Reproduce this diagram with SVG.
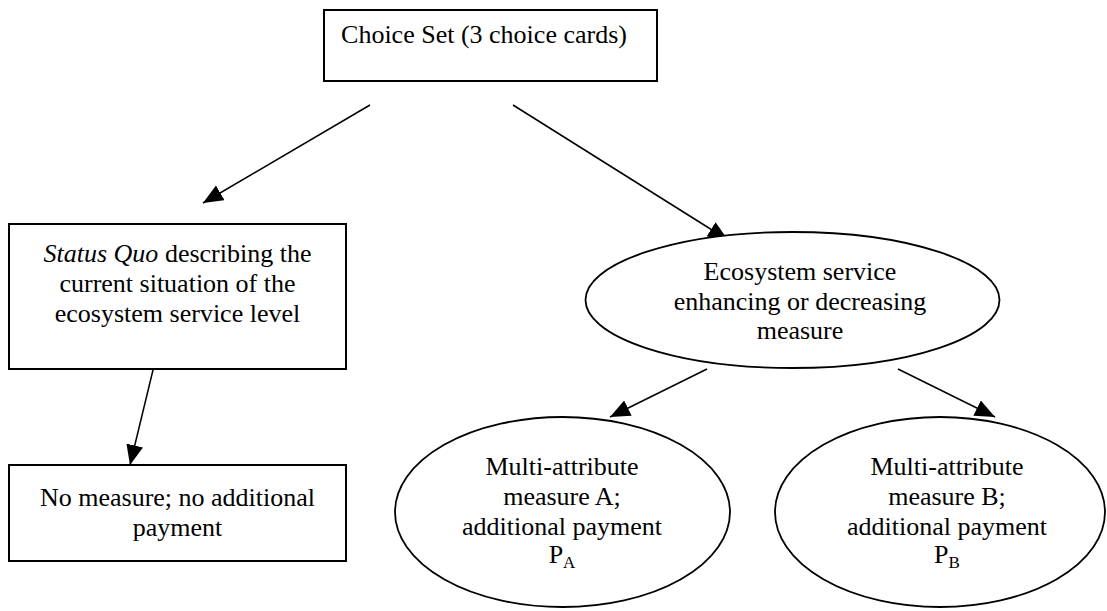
<svg xmlns="http://www.w3.org/2000/svg" width="1107" height="611" viewBox="0 0 1107 611">
<style>
  .box { fill: #fff; stroke: #000; stroke-width: 2; }
  .ell { fill: #fff; stroke: #000; stroke-width: 1.8; }
  .t { font-family: "Liberation Serif", "Times New Roman", "DejaVu Serif", serif; font-size: 26px; fill: #000; text-anchor: middle; }
  .sub { font-size: 17px; }
  .conn line { stroke: #000; stroke-width: 1.5; marker-end: url(#arr); }
</style>
<defs>
  <marker id="arr" markerUnits="userSpaceOnUse" markerWidth="22" markerHeight="18" refX="20" refY="8.5" orient="auto">
    <path d="M0,0 L20,8.5 L0,17 z" fill="#000"/>
  </marker>
</defs>
<rect width="1107" height="611" fill="#fff"/>
<g id="connectors" class="conn">
  <line x1="370" y1="105" x2="203" y2="203"/>
  <line x1="513" y1="105" x2="728" y2="240"/>
  <line x1="153" y1="370" x2="130" y2="465"/>
  <line x1="707" y1="369" x2="610" y2="417"/>
  <line x1="898" y1="369" x2="995" y2="417"/>
</g>
<g id="choice-set">
  <rect class="box" x="324" y="10" width="333" height="71"/>
  <text class="t" x="484" y="43">Choice Set (3 choice cards)</text>
</g>
<g id="status-quo">
  <rect class="box" x="9" y="224" width="337" height="145"/>
  <text class="t" x="177.5" y="262"><tspan font-style="italic">Status Quo</tspan> describing the</text>
  <text class="t" x="177.5" y="292">current situation of the</text>
  <text class="t" x="177.5" y="322">ecosystem service level</text>
</g>
<g id="no-measure">
  <rect class="box" x="9" y="465" width="337" height="96"/>
  <text class="t" x="177.5" y="506">No measure; no additional</text>
  <text class="t" x="177.5" y="536">payment</text>
</g>
<g id="ecosystem-measure">
  <ellipse class="ell" cx="792.5" cy="300" rx="207" ry="68"/>
  <text class="t" x="800" y="280">Ecosystem service</text>
  <text class="t" x="800" y="310">enhancing or decreasing</text>
  <text class="t" x="800" y="339">measure</text>
</g>
<g id="measure-a">
  <ellipse class="ell" cx="562.5" cy="512" rx="167.5" ry="95"/>
  <text class="t" x="562" y="475">Multi-attribute</text>
  <text class="t" x="562" y="505">measure A;</text>
  <text class="t" x="562" y="535">additional payment</text>
  <text class="t" x="562" y="563">P<tspan class="sub" dy="5">A</tspan></text>
</g>
<g id="measure-b">
  <ellipse class="ell" cx="940" cy="512" rx="165" ry="95"/>
  <text class="t" x="947" y="475">Multi-attribute</text>
  <text class="t" x="947" y="505">measure B;</text>
  <text class="t" x="947" y="535">additional payment</text>
  <text class="t" x="947" y="563">P<tspan class="sub" dy="5">B</tspan></text>
</g>
</svg>
